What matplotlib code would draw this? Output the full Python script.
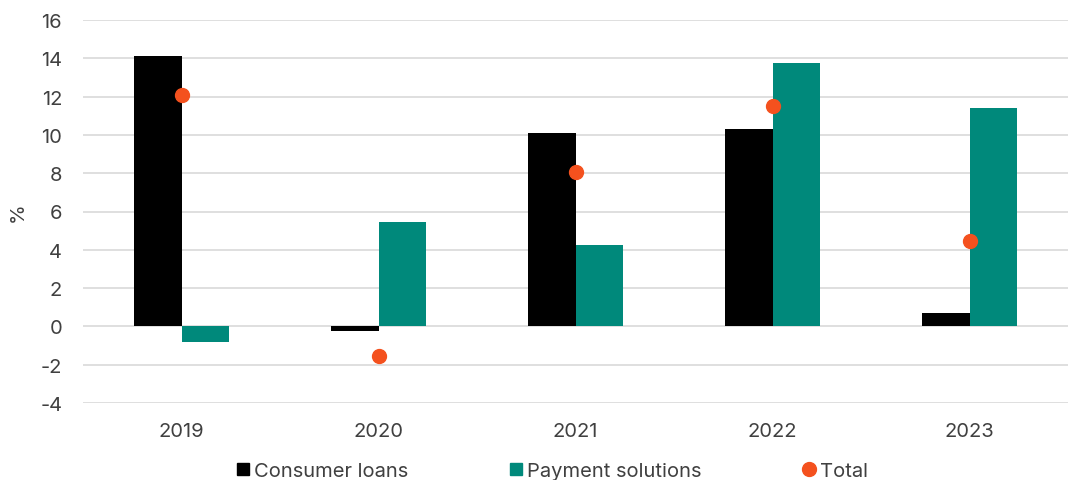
import numpy as np
import matplotlib.pyplot as plt
from matplotlib.lines import Line2D

plt.rcParams['font.family'] = ['Inter', 'DejaVu Sans']
plt.rcParams['axes.unicode_minus'] = False

years = ["2019", "2020", "2021", "2022", "2023"]
consumer_loans = [14.1, -0.25, 10.1, 10.3, 0.68]
payment_solutions = [-0.8, 5.43, 4.23, 13.75, 11.4]
total = [12.1, -1.57, 8.05, 11.5, 4.45]

black = "#000000"
teal = "#00897B"
orange = "#F4511E"
txt = "#404040"

fig = plt.figure(figsize=(10.76, 4.81), dpi=100)
ax = fig.add_axes([83 / 1076, 1 - 404 / 481, (1068 - 83) / 1076, (404 - 21) / 481])

x = np.arange(len(years))
w = 0.24
ax.bar(x - w / 2, consumer_loans, w, color=black, zorder=2)
ax.bar(x + w / 2, payment_solutions, w, color=teal, zorder=2)
ax.plot(x, total, "o", color=orange, markersize=10, zorder=3)

ax.set_xlim(-0.5, len(years) - 0.5)
ax.set_ylim(-4, 16)
ax.set_yticks(np.arange(-4, 17, 2))
ax.set_xticks(x)
ax.set_xticklabels(years)
ax.grid(axis="y", color="#d9d9d9", linewidth=1.2, zorder=0)
for s in ax.spines.values():
    s.set_visible(False)
ax.tick_params(length=0, labelsize=14.5, colors=txt)
ax.tick_params(axis="y", pad=15)
ax.tick_params(axis="x", pad=14)
ax.set_ylabel("%", fontsize=14.5, color=txt, labelpad=10)

handles = [
    Line2D([], [], marker="s", linestyle="", color=black, markersize=9),
    Line2D([], [], marker="s", linestyle="", color=teal, markersize=9),
    Line2D([], [], marker="o", linestyle="", color=orange, markersize=10),
]
fig.legend(handles, ["Consumer loans", "Payment solutions", "Total"], loc="lower center",
           bbox_to_anchor=(0.513, -0.037), ncol=3, frameon=False, fontsize=14.5,
           handlelength=0.7, handletextpad=0.2, columnspacing=5.0, labelcolor=txt)

fig.savefig("out.png", dpi=100)
